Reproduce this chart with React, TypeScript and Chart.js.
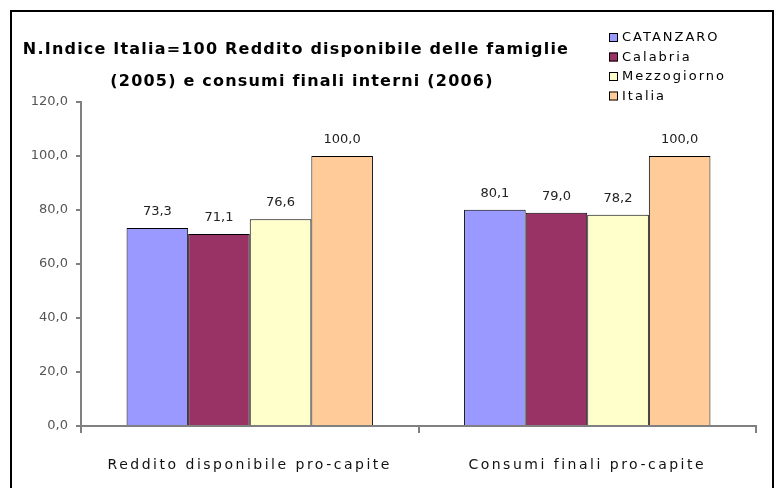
import React, { useEffect, useRef } from "react";
import { Chart, registerables } from "chart.js";

Chart.register(...registerables);

const categories = ["Reddito disponibile pro-capite", "Consumi finali pro-capite"];
const seriesNames = ["CATANZARO", "Calabria", "Mezzogiorno", "Italia"];
const catanzaro = [73.3, 80.1];
const calabria = [71.1, 79.0];
const mezzogiorno = [76.6, 78.2];
const italia = [100.0, 100.0];
const seriesColors = ["#9999FF", "#993366", "#FFFFCC", "#FFCC99"];
const titleLines = [
  "N.Indice Italia=100 Reddito disponibile delle famiglie",
  "(2005) e consumi finali interni (2006)",
];
const yMin = 0;
const yMax = 120;
const yStep = 20;

const FONT = "'DejaVu Sans', sans-serif";

const fmt = (v: number) => v.toFixed(1).replace(".", ",");

const decorPlugin = {
  id: "decor",
  beforeDraw(chart: any) {
    chart.ctx.letterSpacing = "2.5px";
  },
  beforeDatasetsDraw(chart: any) {
    chart.ctx.letterSpacing = "0px";
  },
  afterDraw(chart: any) {
    const ctx = chart.ctx;
    ctx.save();
    // frame
    ctx.strokeStyle = "#000";
    ctx.lineWidth = 2;
    ctx.strokeRect(11, 11, 762, 500);
    // title
    ctx.fillStyle = "#000";
    ctx.font = `bold 16px ${FONT}`;
    ctx.letterSpacing = "1.2px";
    ctx.textAlign = "center";
    ctx.textBaseline = "middle";
    ctx.fillText(titleLines[0], 296, 50);
    ctx.fillText(titleLines[1], 302, 82);
    // legend
    ctx.font = `13px ${FONT}`;
    ctx.letterSpacing = "2px";
    ctx.textAlign = "left";
    chart.data.datasets.forEach((ds: any, i: number) => {
      const y = 38 + i * 19.5;
      ctx.fillStyle = ds.backgroundColor;
      ctx.fillRect(609, y - 5, 9, 9);
      ctx.strokeStyle = "#000";
      ctx.lineWidth = 1;
      ctx.strokeRect(609.5, y - 4.5, 8, 8);
      ctx.fillStyle = "#000";
      ctx.fillText(ds.label, 622, y);
    });
    // data labels
    ctx.font = `13px ${FONT}`;
    ctx.letterSpacing = "0px";
    ctx.fillStyle = "#222";
    ctx.textAlign = "center";
    ctx.textBaseline = "bottom";
    chart.data.datasets.forEach((ds: any, i: number) => {
      const meta = chart.getDatasetMeta(i);
      meta.data.forEach((bar: any, j: number) => {
        ctx.fillText(fmt(ds.data[j]), bar.x, bar.y - 10);
      });
    });
    ctx.restore();
  },
};

export default function App() {
  const ref = useRef<HTMLCanvasElement | null>(null);
  useEffect(() => {
    if (!ref.current) return;
    const data = [catanzaro, calabria, mezzogiorno, italia];
    const chart = new Chart(ref.current, {
      type: "bar",
      data: {
        labels: categories,
        datasets: seriesNames.map((name, i) => ({
          label: name,
          data: data[i],
          backgroundColor: seriesColors[i],
          borderColor: "#000",
          borderWidth: 1,
          categoryPercentage: 0.73,
          barPercentage: 1.0,
        })),
      },
      options: {
        animation: false,
        responsive: false,
        maintainAspectRatio: false,
        layout: { padding: { left: 0, top: 102, right: 19, bottom: 0 } },
        plugins: {
          legend: { display: false },
          title: { display: false },
          tooltip: { enabled: false },
        },
        scales: {
          x: {
            afterFit: (s: any) => { s.height = 62; },
            grid: {
              offset: true,
              drawOnChartArea: false,
              drawTicks: true,
              tickLength: 7,
              color: "#808080",
              lineWidth: 2,
            },
            border: { display: true, color: "#808080", width: 2 },
            ticks: {
              padding: 24,
              color: "#111",
              font: { family: FONT, size: 14 },
            },
          },
          y: {
            min: yMin,
            max: yMax,
            afterFit: (s: any) => { s.width = 81; },
            grid: {
              z: 1,
              drawOnChartArea: false,
              drawTicks: true,
              tickLength: 5,
              color: "#808080",
              lineWidth: 2,
            },
            border: { display: true, color: "#808080", width: 2, z: 1 },
            ticks: {
              z: 1,
              stepSize: yStep,
              padding: 8,
              color: "#555",
              font: { family: FONT, size: 13 },
              callback: (v: any) => fmt(Number(v)),
            },
          },
        },
      },
      plugins: [decorPlugin],
    });
    return () => chart.destroy();
  }, []);
  return (
    <div style={{ position: "absolute", left: 0, top: 0, width: 775, height: 488, background: "#fff" }}>
      <canvas ref={ref} width={775} height={488} style={{ width: 775, height: 488, display: "block" }} />
    </div>
  );
}
